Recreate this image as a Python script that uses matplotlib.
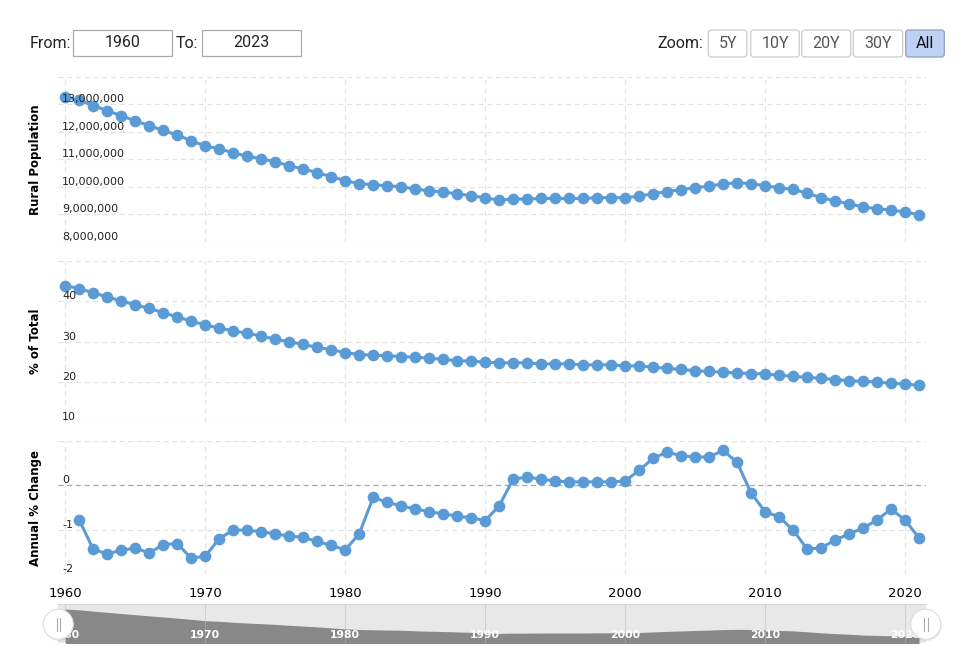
import matplotlib
matplotlib.use("Agg")
import matplotlib.pyplot as plt
from matplotlib.patches import FancyBboxPatch, Rectangle, Circle
import numpy as np

# data
years = list(range(1960, 2022))
rural_pop = [13.27, 13.15, 12.95, 12.77, 12.58, 12.40, 12.22, 12.05, 11.88, 11.68,
             11.48, 11.39, 11.23, 11.12, 11.02, 10.91, 10.77, 10.65, 10.52, 10.37,
             10.23, 10.12, 10.08, 10.04, 10.01, 9.92, 9.86, 9.81, 9.75, 9.68,
             9.60, 9.52, 9.56, 9.56, 9.58, 9.58, 9.58, 9.58, 9.61, 9.61,
             9.61, 9.66, 9.75, 9.83, 9.90, 9.97, 10.03, 10.11, 10.15, 10.12,
             10.04, 9.97, 9.91, 9.77, 9.61, 9.49, 9.39, 9.27, 9.21, 9.16,
             9.09, 8.99]
rural_pop = [v * 1e6 for v in rural_pop]
pct_total = [43.9, 43.15, 42.1, 41.1, 40.1, 39.15, 38.25, 37.15, 36.15, 35.1,
             34.1, 33.4, 32.65, 32.1, 31.4, 30.6, 30.0, 29.3, 28.6, 28.0,
             27.3, 26.8, 26.65, 26.5, 26.3, 26.15, 25.9, 25.6, 25.3, 25.15,
             24.9, 24.75, 24.75, 24.75, 24.5, 24.5, 24.5, 24.25, 24.25, 24.25,
             24.0, 24.0, 23.65, 23.4, 23.1, 22.8, 22.6, 22.4, 22.25, 22.1,
             22.0, 21.65, 21.4, 21.15, 20.9, 20.6, 20.3, 20.15, 20.0, 19.65,
             19.5, 19.15]
change_years = list(range(1961, 2022))
annual_change = [-0.78, -1.44, -1.54, -1.46, -1.41, -1.52, -1.33, -1.31, -1.64, -1.59,
                 -1.20, -1.00, -1.01, -1.04, -1.09, -1.14, -1.17, -1.26, -1.35, -1.45,
                 -1.09, -0.27, -0.38, -0.46, -0.53, -0.59, -0.64, -0.69, -0.73, -0.79,
                 -0.46, 0.14, 0.19, 0.14, 0.10, 0.08, 0.08, 0.08, 0.08, 0.10,
                 0.34, 0.61, 0.75, 0.67, 0.64, 0.64, 0.79, 0.52, -0.17, -0.59,
                 -0.71, -1.00, -1.43, -1.41, -1.23, -1.09, -0.96, -0.78, -0.53, -0.78,
                 -1.18]

decades = [1960, 1970, 1980, 1990, 2000, 2010, 2020]
pop_ticks = [8e6, 9e6, 10e6, 11e6, 12e6, 13e6, 14e6]
pop_labels = ['8,000,000', '9,000,000', '10,000,000', '11,000,000', '12,000,000', '13,000,000', '']
pct_ticks = [10, 20, 30, 40, 50]
pct_labels = ['10', '20', '30', '40', '']
chg_ticks = [-2, -1, 0, 1]
chg_labels = ['-2', '-1', '0', '']
zoom_buttons = ['5Y', '10Y', '20Y', '30Y', 'All']

W, H = 976, 665
BLUE = '#5b9bd5'
GRID = '#e3e3e3'

fig = plt.figure(figsize=(W / 100, H / 100), dpi=100)


def px_axes(left, top, right, bottom):
    return fig.add_axes([left / W, 1 - bottom / H, (right - left) / W, (bottom - top) / H])


X0, X1 = 58.3, 926
xlim = (1959.5, 2021.5)


def style_panel(ax, ticks, labels, ylim, title):
    ax.set_xlim(*xlim)
    ax.set_ylim(*ylim)
    for s in ax.spines.values():
        s.set_visible(False)
    ax.set_xticks(decades)
    ax.set_yticks(ticks)
    ax.tick_params(length=0, labelleft=False, labelbottom=False)
    ax.grid(True, color=GRID, linestyle=(0, (4, 3)), linewidth=0.9)
    ax.set_axisbelow(True)
    # labels sit inside the plot, just above their grid line
    for t, lab in zip(ticks, labels):
        ax.annotate(lab, xy=(0, t), xycoords=('axes fraction', 'data'),
                    xytext=(4, 5), textcoords='offset pixels',
                    ha='left', va='center', fontsize=8, color='#222222')
    ax.set_ylabel(title, fontsize=8.5, fontweight='bold', labelpad=14)


ax1 = px_axes(X0, 76.7, X1, 242)
ax1.plot(years, rural_pop, color=BLUE, lw=2.2, marker='o', ms=7.4, clip_on=False)
style_panel(ax1, pop_ticks, pop_labels, (8e6, 14e6), 'Rural Population')

ax2 = px_axes(X0, 261, X1, 422.3)
ax2.plot(years, pct_total, color=BLUE, lw=2.2, marker='o', ms=7.4, clip_on=False)
style_panel(ax2, pct_ticks, pct_labels, (10, 50), '% of Total')

ax3 = px_axes(X0, 441, X1, 574.3)
ax3.axhline(0, color='#aaaaaa', linestyle=(0, (4, 3)), linewidth=0.9, zorder=1)
ax3.plot(change_years, annual_change, color=BLUE, lw=2.2, marker='o', ms=7.4, clip_on=False)
style_panel(ax3, chg_ticks, chg_labels, (-2, 1), 'Annual % Change')
ax3.tick_params(labelbottom=True, pad=9, labelsize=9.5)

for ax in (ax1, ax2, ax3):
    ax.yaxis.set_label_coords(-(X0 - 42) / (X1 - X0), 0.5)

# navigator
nav = px_axes(X0, 604.3, X1, 643.3)
nav.set_facecolor('#e8e8e8')
nav.fill_between(years, rural_pop, 0, color='#888888', lw=0)
nav.set_xlim(*xlim)
nav.set_ylim(8e6, 14e6)
nav.set_xticks([])
nav.set_yticks([])
for s in nav.spines.values():
    s.set_visible(False)
nav.spines['top'].set_visible(True)
nav.spines['top'].set_color('#d6d6d6')
for d in decades:
    nav.axvline(d, color='#b8b8b8', lw=0.6, alpha=0.6)
    nav.text(d, 0.22, str(d), transform=nav.get_xaxis_transform(), ha='center', va='center',
             fontsize=7.8, fontweight='bold', color='white')

# overlay for controls and handles
ov = fig.add_axes([0, 0, 1, 1], zorder=10)
ov.set_xlim(0, W)
ov.set_ylim(H, 0)
ov.axis('off')
ov.patch.set_alpha(0)

ov.text(30, 43, 'From:', fontsize=11.5, family='Roboto', color='#222222', va='center', ha='left')
ov.add_patch(Rectangle((73, 29.5), 99, 26, facecolor='white', edgecolor='#aaaaaa', lw=0.9))
ov.text(122.5, 42.5, '1960', fontsize=11.5, family='Roboto', color='#222222', va='center', ha='center')
ov.text(176, 43, 'To:', fontsize=11.5, family='Roboto', color='#222222', va='center', ha='left')
ov.add_patch(Rectangle((202, 29.5), 99, 26, facecolor='white', edgecolor='#aaaaaa', lw=0.9))
ov.text(251.5, 42.5, '2023', fontsize=11.5, family='Roboto', color='#222222', va='center', ha='center')

ov.text(703, 43, 'Zoom:', fontsize=11.5, family='Roboto', color='#222222', va='center', ha='right')
btn_x = [708.3, 750.7, 801.7, 853.3, 905.7]
btn_w = [38.6, 48.6, 49, 49.4, 38.6]
for lab, bx, bw in zip(zoom_buttons, btn_x, btn_w):
    active = lab == 'All'
    ov.add_patch(FancyBboxPatch((bx + 2, 32), bw - 4, 23, boxstyle='round,pad=2,rounding_size=3',
                                facecolor='#bed0f4' if active else 'white',
                                edgecolor='#8f9fbf' if active else '#cccccc', lw=0.9))
    ov.text(bx + bw / 2, 43.5, lab, fontsize=11.5, family='Roboto',
            color='#111111' if active else '#555555', va='center', ha='center')

for hx in (X0, 925.7):
    ov.add_patch(Circle((hx + 1, 626), 15, facecolor='#000000', alpha=0.08, lw=0))
    ov.add_patch(Circle((hx, 624.3), 15, facecolor='white', edgecolor='#dddddd', lw=0.8))
    ov.plot([hx - 1.8, hx - 1.8], [618, 630.5], color='#aaaaaa', lw=0.8)
    ov.plot([hx + 1.8, hx + 1.8], [618, 630.5], color='#aaaaaa', lw=0.8)

fig.savefig('out.png', dpi=100)
